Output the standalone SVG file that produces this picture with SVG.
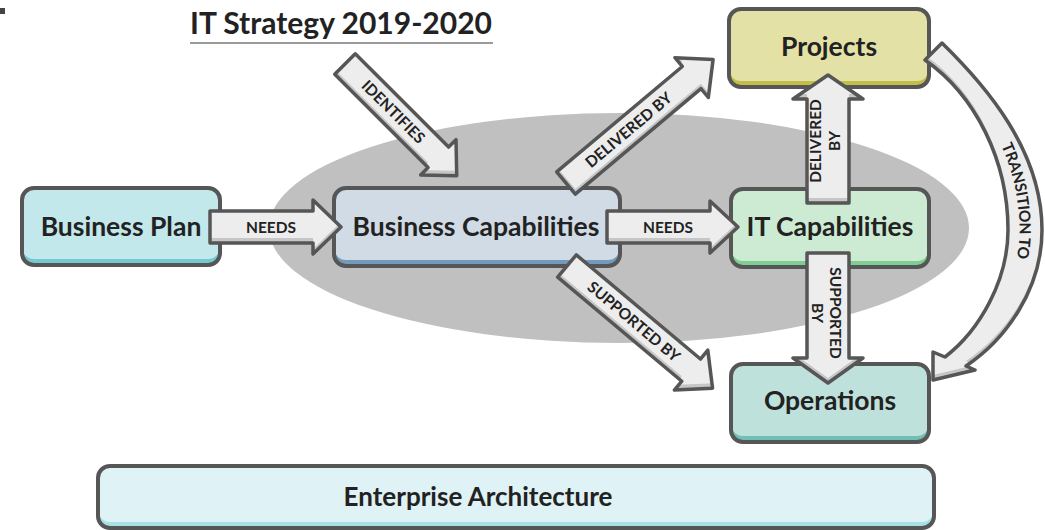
<svg xmlns="http://www.w3.org/2000/svg" xmlns:xlink="http://www.w3.org/1999/xlink" width="1045" height="530" viewBox="0 0 1045 530">
  <style>
    text { font-family: Lato, "Liberation Sans", sans-serif; font-weight: 700; fill: #222222; }
    .node-text { font-size: 26.5px; text-anchor: middle; }
    .lbl { font-size: 15.5px; text-anchor: middle; }
    .outline { fill: none; stroke: #565656; stroke-width: 4; }
    .arr-shadow { fill: #c6c6c6; }
    .arr-face { fill: #ededed; }
    .arr-line { fill: none; stroke: #565656; stroke-width: 3.5; stroke-linejoin: round; }
  </style>
  <defs>
    <!-- block arrow outlines, drawn along local +x then placed -->
    <path id="a-needs1" transform="translate(210,227)" d="M0,-16 H103 V-27 L131,0 L103,27 V16 H0 Z"/>
    <path id="a-needs2" transform="translate(607,227)" d="M0,-16 H103 V-26 L131,0 L103,26 V16 H0 Z"/>
    <path id="a-ident" transform="translate(345,64) rotate(45)" d="M0,-14.5 H132 V-25 L158,0 L132,25 V14.5 H0 Z"/>
    <path id="a-deliv" transform="translate(566,183) rotate(-40)" d="M0,-14.5 H164 V-26 L192,0 L164,26 V14.5 H0 Z"/>
    <path id="a-supp" transform="translate(567,266) rotate(40)" d="M0,-14.5 H162 V-26 L190,0 L162,26 V14.5 H0 Z"/>
    <path id="a-up" transform="translate(828,203) rotate(-90)" d="M0,-21 H104 V-35 L128,0 L104,35 V21 H0 Z"/>
    <path id="a-down" transform="translate(828,253) rotate(90)" d="M0,-21 H105 V-35 L130,0 L105,35 V21 H0 Z"/>
    <path id="a-trans" d="M942,43 C985,85 1042,150 1042,230 C1042,290 1005,340 966,366 L975,370 L933,380 L933,352 L945,357 C980,330 1008,280 1008,230 C1008,160 975,95 925,60 Z"/>
    <path id="trans-mid" d="M934,52 C980,88 1025,150 1025,230 C1025,285 995,332 955,361"/>
    <clipPath id="c-needs1"><use xlink:href="#a-needs1"/></clipPath>
    <clipPath id="c-needs2"><use xlink:href="#a-needs2"/></clipPath>
    <clipPath id="c-ident"><use xlink:href="#a-ident"/></clipPath>
    <clipPath id="c-deliv"><use xlink:href="#a-deliv"/></clipPath>
    <clipPath id="c-supp"><use xlink:href="#a-supp"/></clipPath>
    <clipPath id="c-up"><use xlink:href="#a-up"/></clipPath>
    <clipPath id="c-down"><use xlink:href="#a-down"/></clipPath>
    <clipPath id="c-trans"><use xlink:href="#a-trans"/></clipPath>
  </defs>

  <rect width="1045" height="530" fill="#ffffff"/>
  <rect x="0" y="8" width="5" height="6" fill="#444444"/>

  <!-- title -->
  <g id="title">
    <text x="341" y="34" font-size="30" text-anchor="middle">IT Strategy 2019-2020</text>
    <line x1="190" y1="43" x2="493" y2="43" stroke="#9a9a9a" stroke-width="2"/>
  </g>

  <!-- backdrop -->
  <ellipse id="scope" cx="619" cy="228" rx="350" ry="115" fill="#c0c0c0"/>

  <!-- nodes: band colour underneath, face colour lifted above it -->
  <g id="node-business-plan">
    <rect x="22" y="188" width="198" height="77" rx="12" fill="#74c9d3"/>
    <rect x="22" y="188" width="198" height="71" rx="12" fill="#c2e8ec"/>
    <rect x="22" y="188" width="198" height="77" rx="12" class="outline"/>
    <text class="node-text" x="121" y="236">Business Plan</text>
  </g>
  <g id="node-business-capabilities">
    <rect x="334" y="188" width="286" height="78" rx="12" fill="#7399bb"/>
    <rect x="334" y="188" width="286" height="72" rx="12" fill="#d1dbe5"/>
    <rect x="334" y="188" width="286" height="78" rx="12" class="outline"/>
    <text class="node-text" x="476" y="236">Business Capabilities</text>
  </g>
  <g id="node-it-capabilities">
    <rect x="731" y="189" width="198" height="78" rx="12" fill="#7fcf95"/>
    <rect x="731" y="189" width="198" height="72" rx="12" fill="#cdebd3"/>
    <rect x="731" y="189" width="198" height="78" rx="12" class="outline"/>
    <text class="node-text" x="830" y="236">IT Capabilities</text>
  </g>
  <g id="node-projects">
    <rect x="729" y="9" width="200" height="78" rx="12" fill="#c3bd4a"/>
    <rect x="729" y="9" width="200" height="72" rx="12" fill="#e4e1a7"/>
    <rect x="729" y="9" width="200" height="78" rx="12" class="outline"/>
    <text class="node-text" x="829" y="56">Projects</text>
  </g>
  <g id="node-operations">
    <rect x="731" y="364" width="198" height="78" rx="12" fill="#6fbfb5"/>
    <rect x="731" y="364" width="198" height="72" rx="12" fill="#bfe1dc"/>
    <rect x="731" y="364" width="198" height="78" rx="12" class="outline"/>
    <text class="node-text" x="830" y="410">Operations</text>
  </g>
  <g id="node-enterprise-architecture">
    <rect x="98" y="466" width="836" height="62" rx="12" fill="#a6e1e6"/>
    <rect x="98" y="466" width="836" height="56" rx="12" fill="#dff2f5"/>
    <rect x="98" y="466" width="836" height="62" rx="12" class="outline"/>
    <text x="478" y="506" font-size="26" font-weight="600" text-anchor="middle">Enterprise Architecture</text>
  </g>

  <!-- connectors -->
  <g id="connectors">
    <g id="edge-needs-1">
      <use xlink:href="#a-needs1" class="arr-shadow"/>
      <g clip-path="url(#c-needs1)"><use xlink:href="#a-needs1" class="arr-face" transform="translate(0,-5)"/></g>
      <use xlink:href="#a-needs1" class="arr-line"/>
      <text class="lbl" x="271" y="233">NEEDS</text>
    </g>
    <g id="edge-needs-2">
      <use xlink:href="#a-needs2" class="arr-shadow"/>
      <g clip-path="url(#c-needs2)"><use xlink:href="#a-needs2" class="arr-face" transform="translate(0,-5)"/></g>
      <use xlink:href="#a-needs2" class="arr-line"/>
      <text class="lbl" x="668" y="233">NEEDS</text>
    </g>
    <g id="edge-identifies">
      <use xlink:href="#a-ident" class="arr-shadow"/>
      <g clip-path="url(#c-ident)"><use xlink:href="#a-ident" class="arr-face" transform="translate(0,-5)"/></g>
      <use xlink:href="#a-ident" class="arr-line"/>
      <text class="lbl" transform="translate(345,64) rotate(45)" x="68" y="5">IDENTIFIES</text>
    </g>
    <g id="edge-delivered-diag">
      <use xlink:href="#a-deliv" class="arr-shadow"/>
      <g clip-path="url(#c-deliv)"><use xlink:href="#a-deliv" class="arr-face" transform="translate(0,-5)"/></g>
      <use xlink:href="#a-deliv" class="arr-line"/>
      <text class="lbl" transform="translate(566,183) rotate(-40)" x="82" y="5">DELIVERED BY</text>
    </g>
    <g id="edge-supported-diag">
      <use xlink:href="#a-supp" class="arr-shadow"/>
      <g clip-path="url(#c-supp)"><use xlink:href="#a-supp" class="arr-face" transform="translate(0,-5)"/></g>
      <use xlink:href="#a-supp" class="arr-line"/>
      <text class="lbl" transform="translate(567,266) rotate(40)" x="87" y="5">SUPPORTED BY</text>
    </g>
    <g id="edge-delivered-up">
      <use xlink:href="#a-up" class="arr-shadow"/>
      <g clip-path="url(#c-up)"><use xlink:href="#a-up" class="arr-face" transform="translate(0,-5)"/></g>
      <use xlink:href="#a-up" class="arr-line"/>
      <text class="lbl" transform="translate(828,141) rotate(-90)" font-size="14.5"><tspan x="0" y="-7">DELIVERED</tspan><tspan x="0" y="12">BY</tspan></text>
    </g>
    <g id="edge-supported-down">
      <use xlink:href="#a-down" class="arr-shadow"/>
      <g clip-path="url(#c-down)"><use xlink:href="#a-down" class="arr-face" transform="translate(0,-5)"/></g>
      <use xlink:href="#a-down" class="arr-line"/>
      <text class="lbl" transform="translate(828,313) rotate(90)" font-size="14.5"><tspan x="0" y="-2">SUPPORTED</tspan><tspan x="0" y="16">BY</tspan></text>
    </g>
    <g id="edge-transition">
      <use xlink:href="#a-trans" class="arr-shadow"/>
      <g clip-path="url(#c-trans)"><use xlink:href="#a-trans" class="arr-face" transform="translate(0,-5)"/></g>
      <use xlink:href="#a-trans" class="arr-line"/>
      <text font-size="15.5"><textPath xlink:href="#trans-mid" startOffset="49%" text-anchor="middle"><tspan dy="5.5">TRANSITION TO</tspan></textPath></text>
    </g>
  </g>
</svg>
